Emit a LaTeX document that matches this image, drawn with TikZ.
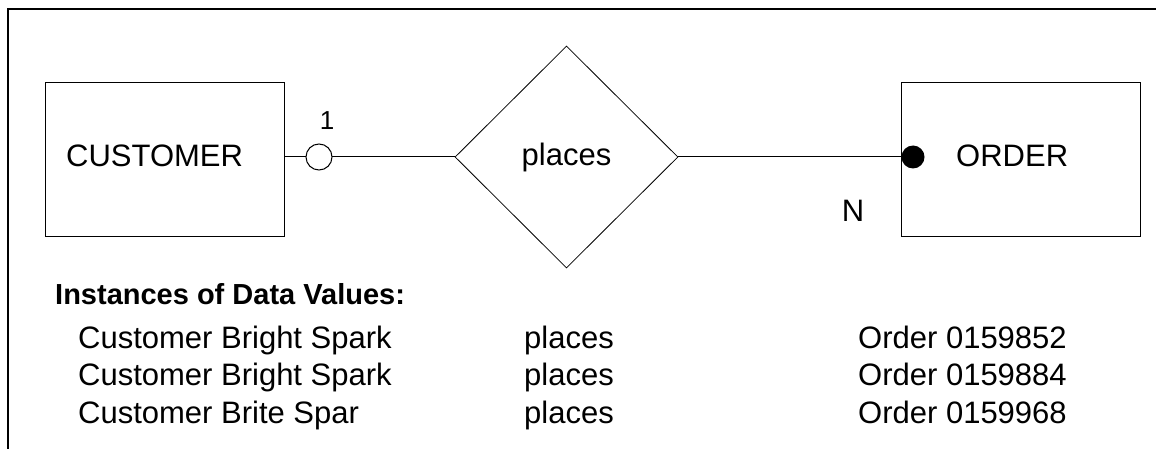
\documentclass[tikz,border=0pt]{standalone}
\usepackage{fontspec}
\setmainfont{Liberation Sans}
\usetikzlibrary{shapes.geometric}
\begin{document}
\begin{tikzpicture}[x=1pt,y=-1pt,
  txt/.style={font=\fontsize{31}{37}\selectfont, inner sep=0pt, anchor=base west},
  hdr/.style={font=\bfseries\fontsize{29}{35}\selectfont, inner sep=0pt, anchor=base west},
  entity/.style={draw, line width=1pt, minimum width=239pt, minimum height=153pt, inner sep=0pt},
  relation/.style={draw, diamond, line width=0.8pt, minimum width=223pt, minimum height=222pt, inner sep=0pt, font=\fontsize{31}{37}\selectfont},
  link/.style={line width=1pt},
  opencirc/.style={circle, draw, line width=1pt, fill=white, minimum size=26pt, inner sep=0pt},
  dotcirc/.style={circle, fill=black, minimum size=23pt, inner sep=0pt},
  card/.style={inner sep=0pt, anchor=base}]
\useasboundingbox (0,0) rectangle (1156,449);
% frame
\draw[line width=2pt] (8,449) -- (8,9) -- (1156,9);
% entities and relation
\node[entity] (cust) at (164.5,159.5) {};
\node[entity] (ord) at (1020.5,159.5) {};
\node[relation] (rel) at (566.5,157) {places};
\node[txt] (custtxt) at (66,167) {CUSTOMER};
\node[txt] (ordtxt) at (956,167) {ORDER};
% connectors
\draw[link] (cust.east |- rel.west) -- (rel.west);
\draw[link] (rel.east) -- (ord.west |- rel.east);
\node[opencirc] (c1) at (319,157) {};
\node[dotcirc] (c2) at (913,157) {};
% cardinalities
\node[card, font=\fontsize{26}{30}\selectfont] (one) at (327,130) {1};
\node[card, font=\fontsize{31}{37}\selectfont] (many) at (853,222) {N};
% instances
\node[hdr] (h) at (55,304) {Instances of Data Values:};
\node[txt] (r1a) at (78,348) {Customer Bright Spark};
\node[txt] (r1b) at (524,348) {places};
\node[txt] (r1c) at (858,348) {Order 0159852};
\node[txt] (r2a) at (78,385.5) {Customer Bright Spark};
\node[txt] (r2b) at (524,385.5) {places};
\node[txt] (r2c) at (858,385.5) {Order 0159884};
\node[txt] (r3a) at (78,423) {Customer Brite Spar};
\node[txt] (r3b) at (524,423) {places};
\node[txt] (r3c) at (858,423) {Order 0159968};
\end{tikzpicture}
\end{document}
